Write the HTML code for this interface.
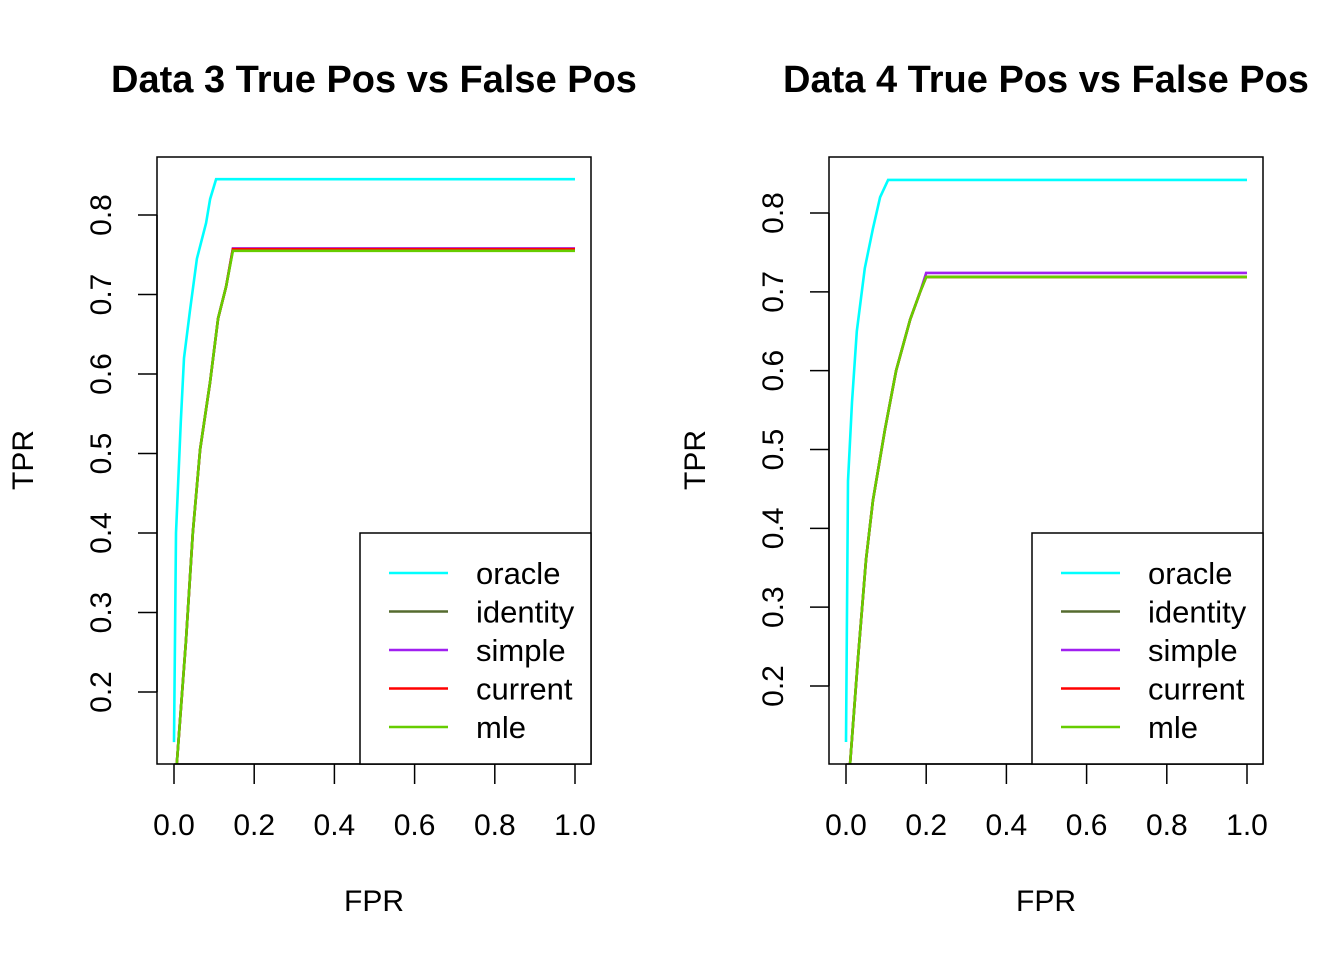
<!DOCTYPE html>
<html><head><meta charset="utf-8"><style>
html,body{margin:0;padding:0;background:#fff;}
svg{display:block;font-family:"Liberation Sans",Arial,sans-serif;}
</style></head><body>
<svg id="chart" width="1344" height="960"></svg>
<script>
const seriesNames = ["oracle","identity","simple","current","mle"];
const seriesColors = ["#00FFFF","#556B2F","#A020F0","#FF0000","#66CD00"];
const xTicks = [0,0.2,0.4,0.6,0.8,1.0];
const yTicks = [0.2,0.3,0.4,0.5,0.6,0.7,0.8];
// Data 3
const d3OracleX = [0,0.005,0.017,0.025,0.04,0.057,0.08,0.09,0.105,1];
const d3OracleY = [0.137,0.40,0.54,0.62,0.68,0.745,0.79,0.82,0.845,0.845];
const d3OtherX = [0.007,0.03,0.047,0.065,0.09,0.11,0.13,0.147,1];
const d3BaseY = [0.11,0.265,0.40,0.505,0.59,0.67,0.71,0.755,0.755];
const d3Final = {identity:0.757,simple:0.758,current:0.757,mle:0.755};
// Data 4
const d4OracleX = [0,0.005,0.015,0.027,0.047,0.067,0.085,0.105,1];
const d4OracleY = [0.129,0.46,0.56,0.65,0.73,0.78,0.82,0.842,0.842];
const d4OtherX = [0.01,0.03,0.05,0.067,0.097,0.125,0.16,0.185,0.2,1];
const d4BaseY = [0.10,0.235,0.36,0.435,0.525,0.60,0.665,0.70,0.719,0.719];
const d4Final = {identity:0.719,simple:0.724,current:0.719,mle:0.719};

const NS="http://www.w3.org/2000/svg";
const svg=document.getElementById('chart');
function mk(tag,attrs,parent){const e=document.createElementNS(NS,tag);for(const k in attrs)e.setAttribute(k,attrs[k]);(parent||svg).appendChild(e);return e;}

function panel(p){
  const g=mk('g',{});
  
  
  const sx=v=>p.x0+v*(p.x1-p.x0);
  const sy=v=>p.y08+(0.8-v)*(p.y02-p.y08)/0.6;
  const t=mk('text',{x:(p.bx0+p.bx1)/2,y:92,'text-anchor':'middle','font-size':'38','font-weight':'bold'},g);
  t.textContent=p.title;
  
  
  const lines=g.appendChild(document.createElementNS(NS,'g'));
  const clip='clip-'+p.id;
  const cp=mk('clipPath',{id:clip},g);mk('rect',{x:p.bx0,y:p.by0,width:p.bx1-p.bx0,height:p.by1-p.by0},cp);
  lines.setAttribute('clip-path','url(#'+clip+')');
  seriesNames.forEach((n,i)=>{
    let xs,ys;
    if(n==='oracle'){xs=p.ox;ys=p.oy;}
    else{xs=p.kx;ys=p.ky.slice();const last=ys.length-1;const d=p.fin[n]-ys[last];ys=ys.map((v,j)=>j>=last-1?v+d:v);}
    const pts=xs.map((x,j)=>sx(x).toFixed(1)+','+sy(ys[j]).toFixed(1)).join(' ');
    const l=mk('polyline',{points:pts,fill:'none',stroke:seriesColors[i],'stroke-width':'2.6'},lines);
    
    
  });
  const b=mk('rect',{x:p.bx0,y:p.by0,width:p.bx1-p.bx0,height:p.by1-p.by0,fill:'none',stroke:'#000','stroke-width':'1.5'},g);
  
  
  mk('line',{x1:sx(0),x2:sx(1),y1:p.by1,y2:p.by1,stroke:'#000','stroke-width':'1.5'},g);
  xTicks.forEach(v=>{
    mk('line',{x1:sx(v),x2:sx(v),y1:p.by1,y2:p.by1+20,stroke:'#000','stroke-width':'1.5'},g);
    const tx=mk('text',{x:sx(v),y:835,'text-anchor':'middle','font-size':'30'},g);
    tx.textContent=v.toFixed(1);
    
    
  });
  mk('line',{x1:p.bx0,x2:p.bx0,y1:sy(0.2),y2:sy(0.8),stroke:'#000','stroke-width':'1.5'},g);
  yTicks.forEach(v=>{
    mk('line',{x1:p.bx0,x2:p.bx0-19,y1:sy(v),y2:sy(v),stroke:'#000','stroke-width':'1.5'},g);
    const cx=p.bx0-57;
    const ty=mk('text',{x:cx,y:sy(v),'text-anchor':'middle','font-size':'30',transform:`rotate(-90 ${cx} ${sy(v)}) translate(0 11)`},g);
    ty.textContent=v.toFixed(1);
    
    
  });
  const xl=mk('text',{x:(p.bx0+p.bx1)/2,y:911,'text-anchor':'middle','font-size':'30'},g);
  xl.textContent='FPR';
  
  
  const yx=p.bx0-135;
  const yl=mk('text',{x:yx,y:460,'text-anchor':'middle','font-size':'30',transform:`rotate(-90 ${yx} 460) translate(0 11)`},g);
  yl.textContent='TPR';
  
  
  const lg=mk('g',{},g);
  
  
  mk('rect',{x:p.bx0+203,y:533,width:p.bx1-p.bx0-203,height:p.by1-533,fill:'#fff',stroke:'#000','stroke-width':'1.5'},lg);
  seriesNames.forEach((n,i)=>{
    const y=573+i*38.5;
    const e=mk('g',{},lg);
    
    
    mk('line',{x1:p.bx0+232,x2:p.bx0+291,y1:y,y2:y,stroke:seriesColors[i],'stroke-width':'2.6'},e);
    const tt=mk('text',{x:p.bx0+319,y:y+11,'font-size':'31'},e);
    tt.textContent=n;
  });
}
panel({id:'panel-data-3',title:'Data 3 True Pos vs False Pos',bx0:157,bx1:591,by0:157,by1:764,x0:174,x1:575,y08:215,y02:692,ox:d3OracleX,oy:d3OracleY,kx:d3OtherX,ky:d3BaseY,fin:d3Final});
panel({id:'panel-data-4',title:'Data 4 True Pos vs False Pos',bx0:829,bx1:1263,by0:157,by1:764,x0:846,x1:1247,y08:213,y02:686,ox:d4OracleX,oy:d4OracleY,kx:d4OtherX,ky:d4BaseY,fin:d4Final});
</script>
</body></html>
